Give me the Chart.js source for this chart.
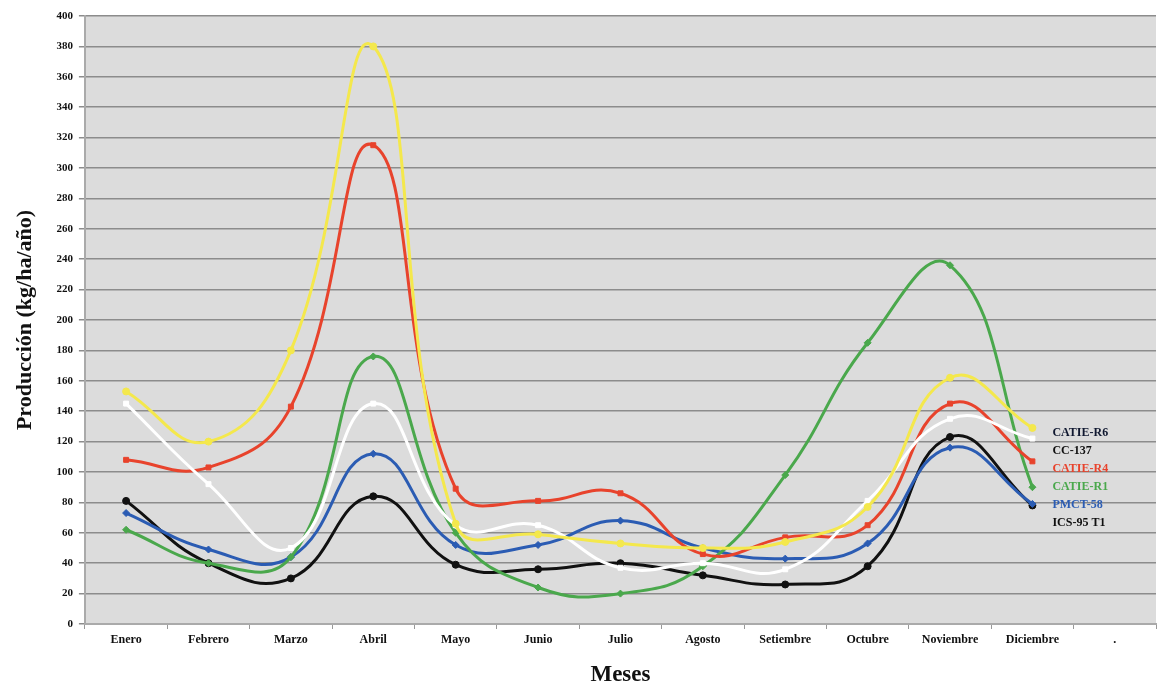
<!DOCTYPE html>
<html>
<head>
    <meta charset="utf-8">
    <title>Producción mensual</title>
    <script src="https://cdn.jsdelivr.net/npm/chart.js@4"></script>
    <style>
        body { margin: 0; background: #fff; }
        #wrap { width: 1161px; height: 689px; }
    </style>
</head>
<body>
    <div id="wrap"><canvas id="chart"></canvas></div>
    <script>
        // meses (el ultimo es un hueco vacio, como en la figura)
        var meses = ['Enero', 'Febrero', 'Marzo', 'Abril', 'Mayo', 'Junio', 'Julio', 'Agosto', 'Setiembre', 'Octubre', 'Noviembre', 'Diciembre', '.'];

        var catieR6 = [153, 120, 180, 380, 66, 59, 53, 50, 54, 77, 162, 129];
        var cc137   = [145, 92, 50, 145, 65, 65, 37, 40, 36, 81, 135, 122];
        var catieR4 = [108, 103, 143, 315, 89, 81, 86, 46, 57, 65, 145, 107];
        var catieR1 = [62, 40, 44, 176, 60, 24, 20, 38, 98, 185, 236, 90];
        var pmct58  = [73, 49, 44, 112, 52, 52, 68, 50, 43, 53, 116, 79];
        var ics95   = [81, 40, 30, 84, 39, 36, 40, 32, 26, 38, 123, 78];

        var yTicks = [0, 20, 40, 60, 80, 100, 120, 140, 160, 180, 200, 220, 240, 260, 280, 300, 320, 340, 360, 380, 400];

        function serie(nombre, datos, color, forma, texto) {
            return {
                label: nombre,
                data: datos,
                borderColor: color,
                backgroundColor: color,
                borderWidth: 3,
                pointStyle: forma,
                pointRadius: 3.5,
                pointBorderWidth: 1,
                tension: 0.45,
                textColor: texto
            };
        }

        // fondo gris del area de trazado
        var fondo = {
            id: 'fondo',
            beforeDraw: function(chart) {
                var a = chart.chartArea, c = chart.ctx;
                c.save();
                c.fillStyle = '#dcdcdc';
                c.fillRect(a.left, a.top, a.right - a.left, a.bottom - a.top);
                c.restore();
            }
        };

        // nombres junto al ultimo punto (Diciembre)
        var etiquetas = {
            id: 'etiquetas',
            afterDatasetsDraw: function(chart) {
                var c = chart.ctx;
                var x = chart.scales.x.getPixelForValue(11) + 20;
                var y0 = chart.scales.y.getPixelForValue(126);
                c.save();
                c.font = 'bold 12px "Liberation Serif"';
                c.textBaseline = 'middle';
                chart.data.datasets.forEach(function(ds, i) {
                    c.fillStyle = ds.textColor;
                    c.fillText(ds.label, x, y0 + i * 18);
                });
                c.restore();
            }
        };

        var ctx = document.getElementById('chart').getContext('2d');
        var chart = new Chart(ctx, {
            type: 'line',
            data: {
                labels: meses,
                datasets: [
                    serie('CATIE-R6', catieR6, '#f4e84c', 'circle', '#101830'),
                    serie('CC-137', cc137, '#ffffff', 'rect', '#101010'),
                    serie('CATIE-R4', catieR4, '#e8432c', 'rect', '#e8432c'),
                    serie('CATIE-R1', catieR1, '#4aa84c', 'rectRot', '#4aa84c'),
                    serie('PMCT-58', pmct58, '#2b5cb3', 'rectRot', '#2b5cb3'),
                    serie('ICS-95 T1', ics95, '#111111', 'circle', '#101010')
                ]
            },
            options: {
                responsive: true,
                maintainAspectRatio: false,
                animation: false,
                layout: { padding: { top: 16, right: 0, bottom: 0, left: 8 } },
                plugins: {
                    legend: { display: false },
                    tooltip: { enabled: false }
                },
                scales: {
                    x: {
                        offset: true,
                        grid: {
                            offset: true,
                            drawOnChartArea: false,
                            color: '#999',
                            tickLength: 5
                        },
                        border: { color: '#aaa', width: 2 },
                        ticks: {
                            color: '#111',
                            padding: 4,
                            maxRotation: 0,
                            autoSkip: false,
                            font: { family: 'Liberation Serif', weight: 'bold', size: 12 }
                        },
                        title: {
                            display: true,
                            text: 'Meses',
                            color: '#111',
                            padding: { top: 10, bottom: 0 },
                            font: { family: 'Liberation Serif', weight: 'bold', size: 23 }
                        }
                    },
                    y: {
                        min: 0,
                        max: 400,
                        afterBuildTicks: function(axis) {
                            axis.ticks = yTicks.map(function(v) { return { value: v }; });
                        },
                        grid: {
                            color: '#8c8c8c',
                            lineWidth: 1.5,
                            tickLength: 6
                        },
                        border: { color: '#aaa', width: 2 },
                        ticks: {
                            color: '#111',
                            padding: 6,
                            font: { family: 'Liberation Serif', weight: 'bold', size: 11 }
                        },
                        title: {
                            display: true,
                            text: 'Producción (kg/ha/año)',
                            color: '#111',
                            padding: { bottom: 12 },
                            font: { family: 'Liberation Serif', weight: 'bold', size: 22 }
                        }
                    }
                }
            },
            plugins: [fondo, etiquetas]
        });
    </script>
</body>
</html>
